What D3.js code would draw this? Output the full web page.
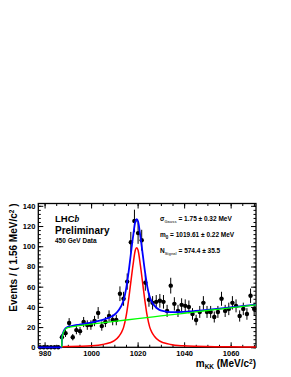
<!DOCTYPE html>
<html>
<head>
<meta charset="utf-8">
<script src="https://cdn.jsdelivr.net/npm/d3@7"></script>
<style>
    body { margin: 0; background: #fff; }
    svg text { font-family: "Liberation Sans", Arial, sans-serif; }
</style>
</head>
<body>
<div id="kkChart"></div>
<script>
// histogram binning (MeV/c2)
const xMin = 977.3, binWidth = 1.56;
const counts = [0, 0, 0, 0, 0, 0,
    10, 14, 24, 10, 17, 16, 25, 22, 22, 26, 34, 21, 25, 31, 27, 27,
    53, 48, 65, 104, 125, 113, 106, 64, 47, 44, 45, 46, 45, 36, 61,
    43, 36, 42, 41, 40, 33, 27, 35, 44, 35, 35, 30, 35, 48, 36, 38,
    44, 41, 31, 38, 33, 51, 38];
const xTicks = [980, 1000, 1020, 1040, 1060];
const yTicks = [0, 20, 40, 60, 80, 100, 120, 140];

// fit curves
const totalMass = [977.3, 987.4, 987.5, 988, 989, 990, 992, 995, 1000, 1005, 1008, 1010, 1012, 1013, 1014, 1015, 1016, 1017, 1018, 1019, 1019.6, 1020.2, 1021.2, 1022.2, 1023.2, 1024.2, 1025.2, 1026.2, 1027.2, 1029.2, 1031.2, 1034.2, 1039.6, 1045, 1050, 1060, 1070.9];
const totalFit = [0, 0, 9.6, 14.7, 18.7, 20.2, 21.3, 22.5, 24.5, 27.1, 29.6, 32.2, 37.2, 41, 46.7, 57, 72.3, 90.6, 108.9, 124.2, 126.8, 124.4, 109.7, 91.9, 74.3, 59.6, 49.9, 44.6, 41.3, 37.3, 35.8, 34.9, 35.1, 36, 37.1, 39.5, 42.3];
const signalMass = [987.4, 990, 995, 1000, 1005, 1008, 1010, 1012, 1013, 1014, 1015, 1016, 1017, 1018, 1019, 1019.6, 1020.2, 1021.2, 1022.2, 1023.2, 1024.2, 1025.2, 1026.2, 1027.2, 1029.2, 1031.2, 1034.2, 1039.6, 1045, 1050, 1060, 1070.9];
const signalFit = [0.6, 0.7, 1.0, 1.5, 2.8, 4.5, 6.5, 11, 14.5, 20, 30, 45, 63, 81, 96, 98.5, 96, 81, 63, 45, 30, 20, 14.5, 11, 6.5, 4.5, 2.8, 1.5, 0.95, 0.7, 0.45, 0.3];
const bkgMass = [987.4, 987.5, 988, 989, 990, 992, 995, 1000, 1010, 1020, 1030, 1040, 1050, 1060, 1070.9];
const bkgFit = [0, 9, 14, 18, 19.5, 20.5, 21.5, 23, 25.7, 28.3, 31, 33.7, 36.4, 39, 42];

let margin = { top: 203.5, left: 38.3 },
    width = 217.7,
    height = 143.8;

let svg = d3.select("#kkChart")
    .append("svg")
    .attr("width", 291)
    .attr("height", 377);
let g = svg.append("g")
    .attr("transform", "translate(" + margin.left + "," + margin.top + ")");

let x = d3.scaleLinear()
    .domain([xMin, xMin + binWidth * counts.length])
    .range([0, width]);
let y = d3.scaleLinear()
    .domain([0, 142.3])
    .range([height, 0]);

// minor ticks
let xMinor = d3.range(980, 1071, 5);
let yMinor = d3.range(0, 143, 4);

function styleAxis(sel) {
    sel.select(".domain").remove();
    sel.selectAll("line").attr("stroke", "#000").attr("stroke-width", 1);
    sel.selectAll("text").attr("font-size", "7.5px").attr("font-weight", "bold").attr("fill", "#000");
}

g.append("g").attr("transform", "translate(0," + height + ")")
    .call(d3.axisBottom(x).tickValues(xMinor).tickSize(-2.5).tickFormat(""))
    .call(styleAxis);
g.append("g").attr("transform", "translate(0," + height + ")")
    .call(d3.axisBottom(x).tickValues(xTicks).tickSize(-5).tickPadding(3.4).tickFormat(d3.format("d")))
    .call(styleAxis);
g.append("g")
    .call(d3.axisTop(x).tickValues(xMinor).tickSize(-2.5).tickFormat(""))
    .call(styleAxis);
g.append("g")
    .call(d3.axisTop(x).tickValues(xTicks).tickSize(-5).tickFormat(""))
    .call(styleAxis);
g.append("g")
    .call(d3.axisLeft(y).tickValues(yMinor).tickSize(-2.5).tickFormat(""))
    .call(styleAxis);
g.append("g")
    .call(d3.axisLeft(y).tickValues(yTicks).tickSize(-5).tickPadding(3))
    .call(styleAxis);
g.append("g").attr("transform", "translate(" + width + ",0)")
    .call(d3.axisRight(y).tickValues(yMinor).tickSize(-2.5).tickFormat(""))
    .call(styleAxis);
g.append("g").attr("transform", "translate(" + width + ",0)")
    .call(d3.axisRight(y).tickValues(yTicks).tickSize(-5).tickFormat(""))
    .call(styleAxis);

g.append("rect")
    .attr("width", width)
    .attr("height", height)
    .attr("fill", "none")
    .attr("stroke", "#000")
    .attr("stroke-width", 1.3);

// data points
let bins = counts.map((c, i) => ({ m: xMin + binWidth * (i + 0.5), n: c }));
let pts = g.selectAll("g.pt").data(bins).enter().append("g").attr("class", "pt");
pts.append("line")
    .attr("x1", d => x(d.m - binWidth / 2))
    .attr("x2", d => x(d.m + binWidth / 2))
    .attr("y1", d => y(d.n))
    .attr("y2", d => y(d.n))
    .attr("stroke", "#000").attr("stroke-width", 1);
pts.append("line")
    .attr("x1", d => x(d.m))
    .attr("x2", d => x(d.m))
    .attr("y1", d => y(d.n + Math.sqrt(d.n)))
    .attr("y2", d => y(Math.max(0, d.n - Math.sqrt(d.n))))
    .attr("stroke", "#000").attr("stroke-width", 1);
pts.append("circle")
    .attr("cx", d => x(d.m))
    .attr("cy", d => y(d.n))
    .attr("r", 2.2)
    .attr("fill", "#000");

// fit curves
function drawCurve(ms, vs, color, w) {
    let line = d3.line()
        .x(d => x(d[0]))
        .y(d => y(d[1]))
        .curve(d3.curveMonotoneX);
    g.append("path")
        .datum(ms.map((m, i) => [m, vs[i]]))
        .attr("d", line)
        .attr("fill", "none")
        .attr("stroke", color)
        .attr("stroke-width", w);
}
drawCurve(totalMass, totalFit, "#0000ff", 1.8);
drawCurve(signalMass, signalFit, "#ff0000", 1.5);
drawCurve(bkgMass, bkgFit, "#00ff00", 1.3);

// axis titles
svg.append("text")
    .attr("transform", "translate(17,203.5)rotate(-90)")
    .attr("text-anchor", "end")
    .attr("font-size", "10px")
    .attr("font-weight", "bold")
    .html('Events / ( 1.56 MeV/c<tspan dy="-3.5" font-size="6.5px">2</tspan><tspan dy="3.5"> )</tspan>');
svg.append("text")
    .attr("x", 256)
    .attr("y", 367)
    .attr("text-anchor", "end")
    .attr("font-size", "10px")
    .attr("font-weight", "bold")
    .html('m<tspan dy="2" font-size="6.5px">KK</tspan><tspan dy="-2"> (MeV/c</tspan><tspan dy="-3.5" font-size="6.5px">2</tspan><tspan dy="3.5">)</tspan>');

// labels
svg.append("text").attr("x", 55).attr("y", 222)
    .attr("font-size", "9.5px").attr("font-weight", "bold")
    .html('LHC<tspan font-style="italic" font-family="Liberation Serif">b</tspan>');
svg.append("text").attr("x", 55).attr("y", 233.5)
    .attr("font-size", "10px").attr("font-weight", "bold")
    .text("Preliminary");
svg.append("text").attr("x", 55).attr("y", 242.5)
    .attr("font-size", "6.5px").attr("font-weight", "bold")
    .text("450 GeV Data");

let statLines = [
    { y: 221, html: 'σ<tspan dy="1.5" font-size="4px" fill="#555">Gauss</tspan><tspan dy="-1.5"> = 1.75 ± 0.32 MeV</tspan>' },
    { y: 237, html: 'm<tspan dy="1.5" font-size="4.5px">0</tspan><tspan dy="-1.5"> = 1019.61 ± 0.22 MeV</tspan>' },
    { y: 253, html: 'N<tspan dy="1.5" font-size="4px" fill="#555">Signal</tspan><tspan dy="-1.5"> = 574.4 ± 35.5</tspan>' }
];
statLines.forEach(s => {
    svg.append("text").attr("x", 160).attr("y", s.y)
        .attr("font-size", "6.5px").attr("font-weight", "bold")
        .html(s.html);
});
</script>
</body>
</html>
